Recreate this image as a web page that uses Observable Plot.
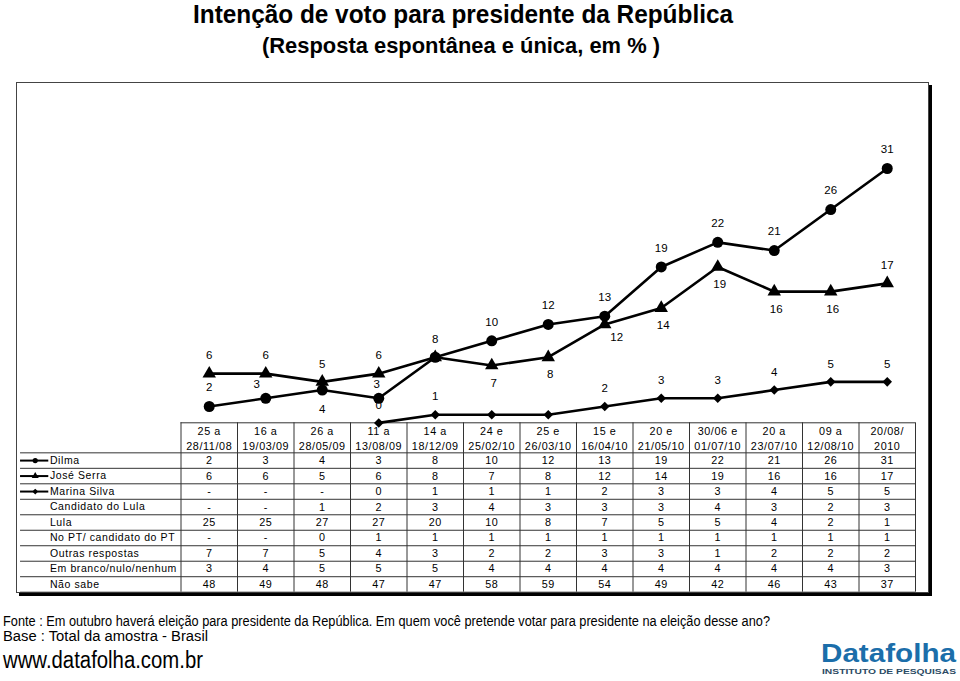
<!DOCTYPE html>
<html><head><meta charset="utf-8">
<script src="https://cdn.jsdelivr.net/npm/d3@7"></script>
<script src="https://cdn.jsdelivr.net/npm/@observablehq/plot@0.6"></script>
<style>
body{margin:0;background:#fff;}
#page{position:relative;width:960px;height:681px;overflow:hidden;font-family:"Liberation Sans",Arial,sans-serif;color:#000;}
.abs{position:absolute;white-space:nowrap;line-height:1.15;transform-origin:0 0;}
#title{left:193px;top:0px;font-weight:bold;font-size:25px;}
#subtitle{left:262px;top:33px;font-weight:bold;font-size:22px;}
#frame{left:16px;top:82px;width:913px;height:511px;box-sizing:border-box;border:1.5px solid #444;box-shadow:3px 3px 0 #000;}
#chart,#table{left:0;top:0;}
#fonte{left:3px;top:613px;font-size:14px;}
#base{left:3px;top:628px;font-size:14px;}
#www{left:3px;top:647px;font-size:23px;}
#logo{left:821px;top:638px;font-weight:bold;font-size:26.5px;color:#1b6eaa;}
#inst{left:822px;top:668px;font-size:7.5px;color:#2b4a63;font-weight:bold;}
</style></head>
<body><div id="page">
<div id="title" class="abs">Intenção de voto para presidente da República</div>
<div id="subtitle" class="abs">(Resposta espontânea e única, em % )</div>
<div id="frame" class="abs"></div>
<div id="table" class="abs"></div>
<div id="chart" class="abs"></div>
<div id="fonte" class="abs">Fonte : Em outubro haverá eleição para presidente da República. Em quem você pretende votar para presidente na eleição desse ano?</div>
<div id="base" class="abs">Base : Total da amostra - Brasil</div>
<div id="www" class="abs">www.datafolha.com.br</div>
<div id="logo" class="abs">Datafolha</div>
<div id="inst" class="abs">INSTITUTO DE PESQUISAS</div>
</div>
<script>
// ---- data ----
const dates = [["25 a","28/11/08"],["16 a","19/03/09"],["26 a","28/05/09"],["11 a","13/08/09"],["14 a","18/12/09"],["24 e","25/02/10"],["25 e","26/03/10"],["15 e","16/04/10"],["20 e","21/05/10"],["30/06 e","01/07/10"],["20 a","23/07/10"],["09 a","12/08/10"],["20/08/","2010"]];
const rowLabels = ["Dilma","José Serra","Marina Silva","Candidato do Lula","Lula","No PT/ candidato do PT","Outras respostas","Em branco/nulo/nenhum","Não sabe"];
const dilma   = [2,3,4,3,8,10,12,13,19,22,21,26,31];
const serra   = [6,6,5,6,8,7,8,12,14,19,16,16,17];
const marina  = [null,null,null,0,1,1,1,2,3,3,4,5,5];
const candLula= [null,null,1,2,3,4,3,3,3,4,3,2,3];
const lula    = [25,25,27,27,20,10,8,7,5,5,4,2,1];
const noPT    = [null,null,0,1,1,1,1,1,1,1,1,1,1];
const outras  = [7,7,5,4,3,2,2,3,3,1,2,2,2];
const branco  = [3,4,5,5,5,4,4,4,4,4,4,4,3];
const naoSabe = [48,49,48,47,47,58,59,54,49,42,46,43,37];
const rowValues = [dilma,serra,marina,candLula,lula,noPT,outras,branco,naoSabe];
// label placement codes (t = above, b = below, n = hidden ...)
const dilmaPos  = ["t","tl","b","tn","n","t","t","t","t","t","t","t","t"];
const serraPos  = ["t","t","t","t","t","b","b","br","b","b","b","b","t"];
const marinaPos = ["n","n","n","t","t","n","n","t","t","t","t","t","t"];

// ---- fit narrow-looking text boxes to the reference widths ----
const textWidths = {title:540, subtitle:398, fonte:767, base:205, www:200, logo:135, inst:134};
for (const [id,w] of Object.entries(textWidths)) {
  const el = document.getElementById(id);
  el.style.display = "inline-block";
  const nat = el.getBoundingClientRect().width;
  el.style.transform = `scaleX(${w/nat})`;
}

// ---- shared x scale ----
const X = {domain:[-0.5,12.5], range:[180.5,915], axis:null};
const FONT = '"Liberation Sans", Arial, sans-serif';

function pts(series,pos){return series.map((v,i)=>({i,v,p:pos[i]})).filter(d=>d.v!=null);}
function labels(data,offsets){
  return Object.entries(offsets).map(([code,[dx,dy]])=>
    Plot.text(data.filter(d=>d.p===code),{x:"i",y:"v",text:d=>String(d.v),dx,dy,fontSize:11.5,fill:"black",fontFamily:FONT}));
}
const dD = pts(dilma,dilmaPos), sD = pts(serra,serraPos), mD = pts(marina,marinaPos);

const chart = Plot.plot({
  width:960, height:430,
  x:X, y:{domain:[0,31], range:[422.4,168], axis:null},
  style:{background:"transparent", overflow:"visible", fontFamily:FONT},
  marks:[
    Plot.line(mD,{x:"i",y:"v",stroke:"black",strokeWidth:2.6}),
    Plot.line(sD,{x:"i",y:"v",stroke:"black",strokeWidth:2.6}),
    Plot.line(dD,{x:"i",y:"v",stroke:"black",strokeWidth:2.6}),
    Plot.dot(mD,{x:"i",y:"v",symbol:"diamond2",r:4.3,fill:"black",stroke:"none"}),
    Plot.dot(sD,{x:"i",y:"v",symbol:"triangle",r:5,fill:"black",stroke:"none"}),
    Plot.dot(dD,{x:"i",y:"v",symbol:"circle",r:5.5,fill:"black",stroke:"none"}),
    ...labels(dD,{t:[0,-19],tl:[-9,-14],tn:[-2,-14],b:[0,19]}),
    ...labels(sD,{t:[0,-18],b:[2,17.5],br:[12,13]}),
    ...labels(mD,{t:[0,-18]})
  ]
});
document.getElementById("chart").appendChild(chart);

// ---- table ----
const H = 1.94, n = rowLabels.length;
const xL0 = -3.34, xText = -2.82;
const cells = [];
rowValues.forEach((vals,r)=>vals.forEach((v,c)=>cells.push({r,c,t:v==null?"-":String(v)})));
const swatch = [{r:0,s:"circle"},{r:1,s:"triangle"},{r:2,s:"diamond2"}];
const table = Plot.plot({
  width:960, height:600,
  x:X, y:{domain:[0,H+n], range:[422.3,591.7], axis:null},
  style:{background:"transparent", overflow:"visible", fontFamily:FONT, letterSpacing:"0.6px"},
  marks:[
    Plot.ruleY([0],{y:d=>d,x1:()=>-0.5,x2:()=>12.5,stroke:"#333",strokeWidth:1}),
    Plot.ruleY(d3.range(n+1).map(k=>H+k),{y:d=>d,x1:()=>xL0,x2:()=>12.5,stroke:"#333",strokeWidth:1}),
    Plot.ruleX(d3.range(14).map(j=>j-0.5),{x:d=>d,y1:()=>0,y2:()=>H+n,stroke:"#333",strokeWidth:1}),
    Plot.text(dates,{x:(d,i)=>i,y:()=>H/2,text:d=>d.join("\n"),lineHeight:1.35,fontSize:10.8,fill:"black",fontFamily:FONT}),
    Plot.text(cells,{x:"c",y:d=>H+d.r+0.5,text:"t",fontSize:10.8,fill:"black",fontFamily:FONT}),
    Plot.text(rowLabels,{x:()=>xText,y:(d,i)=>H+i+0.5,text:d=>d,textAnchor:"start",fontSize:10.5,fill:"black",fontFamily:FONT}),
    Plot.ruleY(swatch,{y:d=>H+d.r+0.5,x1:()=>xL0,x2:()=>xText-0.02,stroke:"black",strokeWidth:2}),
    Plot.dot(swatch,{x:()=>(xL0+xText)/2,y:d=>H+d.r+0.5,symbol:"s",r:2.6,fill:"black",stroke:"none"})
  ]
});
document.getElementById("table").appendChild(table);
</script>
</body></html>
